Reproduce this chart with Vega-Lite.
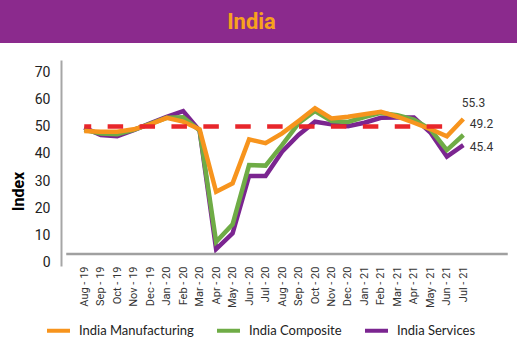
{
  "$schema": "https://vega.github.io/schema/vega-lite/v6.json",
  "padding": 0,
  "background": "white",
  "spacing": 17,
  "resolve": {"scale": {"color": "independent"}, "legend": {"color": "independent"}},
  "config": {"view": {"stroke": null}, "font": "Roboto"},
  "datasets": {
    "pmi": [
      {"month": "Aug - 19", "series": "India Services", "value": 49.6},
      {"month": "Sep - 19", "series": "India Services", "value": 46.9},
      {"month": "Oct - 19", "series": "India Services", "value": 46.5},
      {"month": "Nov - 19", "series": "India Services", "value": 48.7},
      {"month": "Dec - 19", "series": "India Services", "value": 51.2},
      {"month": "Jan - 20", "series": "India Services", "value": 53.6},
      {"month": "Feb - 20", "series": "India Services", "value": 55.7},
      {"month": "Mar - 20", "series": "India Services", "value": 48.5},
      {"month": "Apr - 20", "series": "India Services", "value": 5.1},
      {"month": "May - 20", "series": "India Services", "value": 10.9},
      {"month": "Jun - 20", "series": "India Services", "value": 31.9},
      {"month": "Jul - 20", "series": "India Services", "value": 31.9},
      {"month": "Aug - 20", "series": "India Services", "value": 40.8},
      {"month": "Sep - 20", "series": "India Services", "value": 46.9},
      {"month": "Oct - 20", "series": "India Services", "value": 51.8},
      {"month": "Nov - 20", "series": "India Services", "value": 50.8},
      {"month": "Dec - 20", "series": "India Services", "value": 50.1},
      {"month": "Jan - 21", "series": "India Services", "value": 51.4},
      {"month": "Feb - 21", "series": "India Services", "value": 53.2},
      {"month": "Mar - 21", "series": "India Services", "value": 53.3},
      {"month": "Apr - 21", "series": "India Services", "value": 53.3},
      {"month": "May - 21", "series": "India Services", "value": 47.8},
      {"month": "Jun - 21", "series": "India Services", "value": 39.0},
      {"month": "Jul - 21", "series": "India Services", "value": 43.2},
      {"month": "Aug - 19", "series": "India Composite", "value": 48.8},
      {"month": "Sep - 19", "series": "India Composite", "value": 47.5},
      {"month": "Oct - 19", "series": "India Composite", "value": 47.2},
      {"month": "Nov - 19", "series": "India Composite", "value": 48.8},
      {"month": "Dec - 19", "series": "India Composite", "value": 51.0},
      {"month": "Jan - 20", "series": "India Composite", "value": 53.2},
      {"month": "Feb - 20", "series": "India Composite", "value": 53.4},
      {"month": "Mar - 20", "series": "India Composite", "value": 48.6},
      {"month": "Apr - 20", "series": "India Composite", "value": 7.8},
      {"month": "May - 20", "series": "India Composite", "value": 14.2},
      {"month": "Jun - 20", "series": "India Composite", "value": 35.9},
      {"month": "Jul - 20", "series": "India Composite", "value": 35.7},
      {"month": "Aug - 20", "series": "India Composite", "value": 43.2},
      {"month": "Sep - 20", "series": "India Composite", "value": 51.2},
      {"month": "Oct - 20", "series": "India Composite", "value": 55.7},
      {"month": "Nov - 20", "series": "India Composite", "value": 52.0},
      {"month": "Dec - 20", "series": "India Composite", "value": 51.7},
      {"month": "Jan - 21", "series": "India Composite", "value": 53.5},
      {"month": "Feb - 21", "series": "India Composite", "value": 55.0},
      {"month": "Mar - 21", "series": "India Composite", "value": 54.2},
      {"month": "Apr - 21", "series": "India Composite", "value": 52.6},
      {"month": "May - 21", "series": "India Composite", "value": 49.0},
      {"month": "Jun - 21", "series": "India Composite", "value": 41.4},
      {"month": "Jul - 21", "series": "India Composite", "value": 46.9},
      {"month": "Aug - 19", "series": "India Manufacturing", "value": 48.4},
      {"month": "Sep - 19", "series": "India Manufacturing", "value": 48.1},
      {"month": "Oct - 19", "series": "India Manufacturing", "value": 48.1},
      {"month": "Nov - 19", "series": "India Manufacturing", "value": 49.0},
      {"month": "Dec - 19", "series": "India Manufacturing", "value": 50.8},
      {"month": "Jan - 20", "series": "India Manufacturing", "value": 53.2},
      {"month": "Feb - 20", "series": "India Manufacturing", "value": 51.8},
      {"month": "Mar - 20", "series": "India Manufacturing", "value": 49.0},
      {"month": "Apr - 20", "series": "India Manufacturing", "value": 26.1},
      {"month": "May - 20", "series": "India Manufacturing", "value": 29.2},
      {"month": "Jun - 20", "series": "India Manufacturing", "value": 45.3},
      {"month": "Jul - 20", "series": "India Manufacturing", "value": 43.9},
      {"month": "Aug - 20", "series": "India Manufacturing", "value": 47.5},
      {"month": "Sep - 20", "series": "India Manufacturing", "value": 52.0},
      {"month": "Oct - 20", "series": "India Manufacturing", "value": 56.7},
      {"month": "Nov - 20", "series": "India Manufacturing", "value": 53.0},
      {"month": "Dec - 20", "series": "India Manufacturing", "value": 53.6},
      {"month": "Jan - 21", "series": "India Manufacturing", "value": 54.5},
      {"month": "Feb - 21", "series": "India Manufacturing", "value": 55.4},
      {"month": "Mar - 21", "series": "India Manufacturing", "value": 53.6},
      {"month": "Apr - 21", "series": "India Manufacturing", "value": 51.4},
      {"month": "May - 21", "series": "India Manufacturing", "value": 49.1},
      {"month": "Jun - 21", "series": "India Manufacturing", "value": 46.4},
      {"month": "Jul - 21", "series": "India Manufacturing", "value": 52.8}
    ],
    "ends": [
      {"month": "Jul - 21", "series": "India Manufacturing", "value": 52.8, "label": "55.3"},
      {"month": "Jul - 21", "series": "India Composite", "value": 46.9, "label": "49.2"},
      {"month": "Jul - 21", "series": "India Services", "value": 43.2, "label": "45.4"}
    ]
  },
  "vconcat": [
    {
      "width": 517,
      "height": 43,
      "data": {"values": [{"title": "India"}]},
      "layer": [
        {"mark": {"type": "rect", "color": "#8B2A8D"}, "encoding": {}},
        {"mark": {"type": "text", "fontSize": 22, "fontWeight": "bold", "color": "#F7A21D", "dx": -7, "font": "Roboto"}, "encoding": {"text": {"field": "title"}}}
      ]
    },
    {
      "width": 517,
      "height": 206,
      "encoding": {
        "x": {
          "field": "month", "type": "ordinal",
          "scale": {"type": "point", "range": [76, 471.6], "domain": ["Aug - 19","Sep - 19","Oct - 19","Nov - 19","Dec - 19","Jan - 20","Feb - 20","Mar - 20","Apr - 20","May - 20","Jun - 20","Jul - 20","Aug - 20","Sep - 20","Oct - 20","Nov - 20","Dec - 20","Jan - 21","Feb - 21","Mar - 21","Apr - 21","May - 21","Jun - 21","Jul - 21"]},
          "axis": {"title": null, "labelAngle": -90, "labelFontSize": 11, "labelColor": "#333333", "labelPadding": 0, "ticks": false, "domain": false, "grid": false}
        },
        "y": {
          "field": "value", "type": "quantitative",
          "scale": {"domain": [-1.1, 74.4], "nice": false, "zero": false},
          "axis": {"title": "Index", "offset": -61, "values": [0, 10, 20, 30, 40, 50, 60, 70], "titleFontSize": 16, "titleFontWeight": "bold", "titleColor": "#000000", "titleX": -35, "titleY": 131, "titleBaseline": "bottom", "labelFontSize": 14, "labelColor": "#222222", "labelPadding": 11, "ticks": false, "grid": false, "domainColor": "#A6A6A6", "domainWidth": 2}
        }
      },
      "layer": [
        {
          "data": {"name": "pmi"},
          "mark": {"type": "line", "strokeWidth": 4.5, "strokeCap": "butt"},
          "encoding": {
            "color": {
              "field": "series", "type": "nominal",
              "scale": {"domain": ["India Manufacturing", "India Composite", "India Services"], "range": ["#F7941D", "#6FAC46", "#7B2590"]},
              "legend": {"title": null, "orient": "none", "legendX": 45, "legendY": 257, "direction": "horizontal", "symbolType": "stroke", "symbolSize": 529, "symbolStrokeWidth": 4, "labelFont": "Lato", "labelFontSize": 13, "labelColor": "#222222", "labelOffset": 7, "columnPadding": 15}
            }
          }
        },
        {
          "data": {"values": [{"level": 50, "start": "Aug - 19", "end": "Jun - 21"}]},
          "mark": {"type": "rule", "color": "#E8262B", "strokeWidth": 4.5, "strokeDash": [15.5, 16.4], "strokeDashOffset": 8.5},
          "encoding": {
            "x": {"field": "start", "type": "ordinal"},
            "x2": {"field": "end"},
            "y": {"field": "level", "type": "quantitative"}
          }
        },
        {
          "data": {"values": [{"axisline": 3.3, "start": "Aug - 19", "end": "Jul - 21"}]},
          "mark": {"type": "rule", "color": "#A0A0A0", "strokeWidth": 2.5, "xOffset": -18, "x2Offset": 44.4},
          "encoding": {
            "x": {"field": "start", "type": "ordinal"},
            "x2": {"field": "end"},
            "y": {"field": "axisline", "type": "quantitative"}
          }
        },
        {
          "data": {"name": "ends"},
          "transform": [{"filter": "datum.series == 'India Manufacturing'"}],
          "mark": {"type": "text", "align": "left", "dx": -1.5, "dy": -15.6, "fontSize": 12, "color": "#333333"},
          "encoding": {"text": {"field": "label"}}
        },
        {
          "data": {"name": "ends"},
          "transform": [{"filter": "datum.series == 'India Composite'"}],
          "mark": {"type": "text", "align": "left", "dx": 6.5, "dy": -11.3, "fontSize": 12, "color": "#333333"},
          "encoding": {"text": {"field": "label"}}
        },
        {
          "data": {"name": "ends"},
          "transform": [{"filter": "datum.series == 'India Services'"}],
          "mark": {"type": "text", "align": "left", "dx": 6.5, "dy": 1.6, "fontSize": 12, "color": "#333333"},
          "encoding": {"text": {"field": "label"}}
        }
      ]
    }
  ]
}
